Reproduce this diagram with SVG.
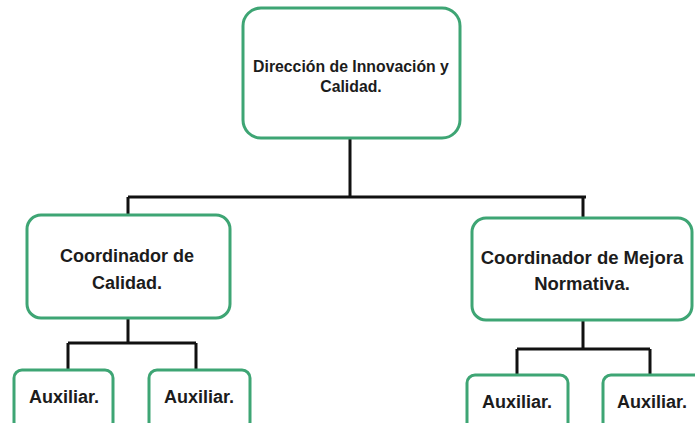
<svg xmlns="http://www.w3.org/2000/svg" width="695" height="423" viewBox="0 0 695 423">
<style>
.box{fill:#ffffff;stroke:#3ea574;stroke-width:3}
.t{font-family:"Liberation Sans",Arial,sans-serif;font-weight:bold;fill:#1c1c1c;text-anchor:middle}
.c{fill:none;stroke:#111;stroke-width:3}
</style>
<rect width="695" height="423" fill="#ffffff"/>
<g id="connectors">
<path class="c" d="M350 138V197M128 197H586M128 197V215M583 197V218"/>
<path class="c" d="M128 318V343M68 343H196M68 343V370M196 343V370"/>
<path class="c" d="M583 320V349M517 349H650M517 349V375M650 349V375"/>
</g>
<g id="n-direccion">
<rect class="box" x="243" y="8" width="217" height="130" rx="18"/>
<text class="t" x="351" y="72" font-size="15.8">Dirección de Innovación y</text>
<text class="t" x="351" y="92" font-size="15.8">Calidad.</text>
</g>
<g id="n-coord-calidad">
<rect class="box" x="27" y="215" width="203" height="103" rx="14"/>
<text class="t" x="127" y="262" font-size="18">Coordinador de</text>
<text class="t" x="127" y="289" font-size="18">Calidad.</text>
</g>
<g id="n-coord-mejora">
<rect class="box" x="472" y="218" width="220" height="102" rx="14"/>
<text class="t" x="582" y="264" font-size="18.5">Coordinador de Mejora</text>
<text class="t" x="582" y="290" font-size="18.5">Normativa.</text>
</g>
<g id="n-aux1">
<rect class="box" x="14" y="370" width="99" height="60" rx="8"/>
<text class="t" x="64" y="403" font-size="18">Auxiliar.</text>
</g>
<g id="n-aux2">
<rect class="box" x="149" y="370" width="101" height="60" rx="8"/>
<text class="t" x="199" y="403" font-size="18">Auxiliar.</text>
</g>
<g id="n-aux3">
<rect class="box" x="467" y="375" width="101" height="60" rx="8"/>
<text class="t" x="517" y="408" font-size="18">Auxiliar.</text>
</g>
<g id="n-aux4">
<rect class="box" x="603" y="375" width="100" height="60" rx="8"/>
<text class="t" x="652" y="408" font-size="18">Auxiliar.</text>
</g>
</svg>
